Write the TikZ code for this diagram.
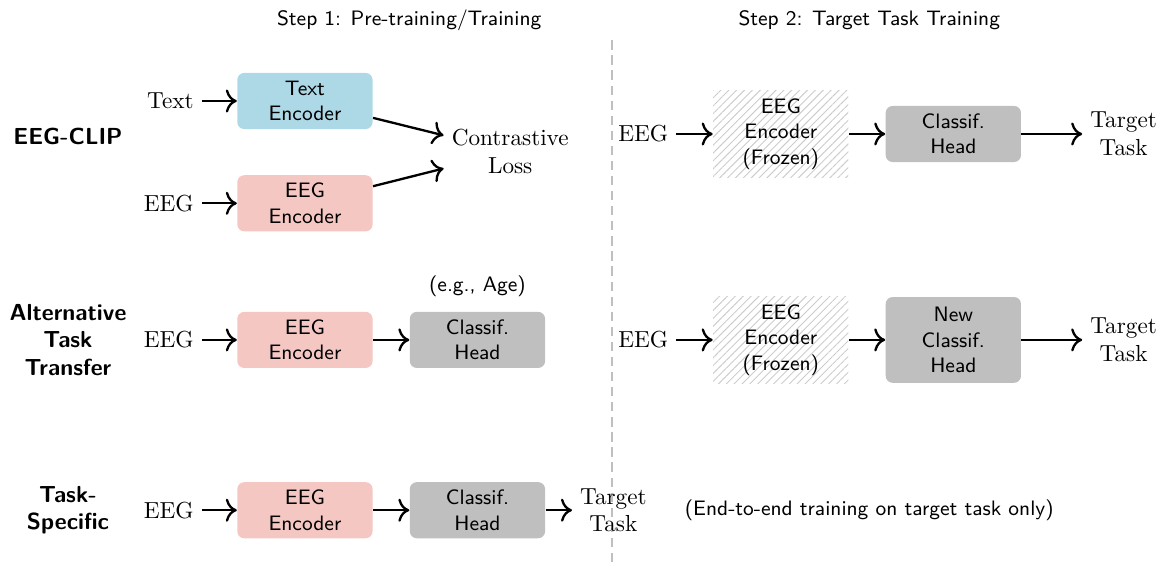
\documentclass[tikz,border=0pt]{standalone}
\usepackage{xcolor}
\usepackage{tikz}
\usetikzlibrary{shapes,arrows,arrows.meta,positioning,calc,patterns.meta}

\definecolor{encblue}{RGB}{173,216,230}
\definecolor{encpink}{RGB}{244,199,195}
\definecolor{headgray}{RGB}{191,191,191}

\begin{document}
\begin{tikzpicture}[node distance=0.55cm,
  box/.style={rectangle, rounded corners=3pt, minimum width=2.05cm, minimum height=0.85cm, inner sep=2pt, align=center, font=\sffamily\small},
  textenc/.style={box, fill=encblue},
  eegenc/.style={box, fill=encpink},
  head/.style={box, fill=headgray},
  frozen/.style={box, rounded corners=0pt, minimum height=1.33cm, pattern={Lines[angle=45,distance=2.4pt,line width=0.4pt]}, pattern color=gray!40},
  io/.style={align=center},
  rowlabel/.style={align=center, font=\sffamily\bfseries},
  note/.style={font=\sffamily\small},
  flow/.style={-{To[scale=1.25]}, line width=1pt}]
\useasboundingbox (0,0) rectangle (17.545,-8.59);

% step titles and divider
\node[font=\sffamily\small] (steppre) at (6.20,-0.30) {Step 1: Pre-training/Training};
\node[font=\sffamily\small] (steptarget) at (13.17,-0.30) {Step 2: Target Task Training};
\draw[gray!50, line width=0.6pt, dash pattern=on 4pt off 2.5pt] (9.27,-0.61) -- (9.27,-8.59);

% row labels
\node[rowlabel] (clip) at (1.03,-2.06) {EEG-CLIP};
\node[rowlabel] (alt) at (1.03,-5.15) {Alternative\\Task\\Transfer};
\node[rowlabel] (spec) at (1.03,-7.73) {Task-\\Specific};

% EEG-CLIP, step 1
\node[textenc] (cliptextenc) at (4.62,-1.53) {Text\\Encoder};
\node[eegenc] (clipeegenc) at (4.62,-3.08) {EEG\\Encoder};
\node[io, left=0.53cm of cliptextenc] (cliptext) {Text};
\node[io, left=0.53cm of clipeegenc] (clipeeg) {EEG};
\node[io] (cliploss) at (7.73,-2.30) {Contrastive\\Loss};
\draw[flow] (cliptext) -- (cliptextenc);
\draw[flow] (clipeeg) -- (clipeegenc);
\draw[flow] (cliptextenc) -- (cliploss);
\draw[flow] (clipeegenc) -- (cliploss);

% EEG-CLIP, step 2
\node[frozen] (clipfrozen) at (11.83,-2.03) {EEG\\Encoder\\(Frozen)};
\node[io, left=of clipfrozen] (clipeegR) {EEG};
\node[head, right=of clipfrozen] (cliphead) {Classif.\\Head};
\node[io, right=0.92cm of cliphead] (cliptarget) {Target\\Task};
\draw[flow] (clipeegR) -- (clipfrozen);
\draw[flow] (clipfrozen) -- (cliphead);
\draw[flow] (cliphead) -- (cliptarget);

% alternative task, step 1
\node[eegenc] (altenc) at (4.62,-5.15) {EEG\\Encoder};
\node[io, left=0.53cm of altenc] (alteeg) {EEG};
\node[head, right=of altenc] (althead) {Classif.\\Head};
\node[note, above=1mm of althead] (altage) {(e.g., Age)};
\draw[flow] (alteeg) -- (altenc);
\draw[flow] (altenc) -- (althead);

% alternative task, step 2
\node[frozen] (altfrozen) at (11.83,-5.15) {EEG\\Encoder\\(Frozen)};
\node[io, left=of altfrozen] (alteegR) {EEG};
\node[head, right=of altfrozen, minimum height=1.30cm] (altnewhead) {New\\Classif.\\Head};
\node[io, right=0.92cm of altnewhead] (alttarget) {Target\\Task};
\draw[flow] (alteegR) -- (altfrozen);
\draw[flow] (altfrozen) -- (altnewhead);
\draw[flow] (altnewhead) -- (alttarget);

% task-specific
\node[eegenc] (specenc) at (4.62,-7.73) {EEG\\Encoder};
\node[io, left=0.53cm of specenc] (speceeg) {EEG};
\node[head, right=of specenc] (spechead) {Classif.\\Head};
\node[io, right=0.4cm of spechead] (spectarget) {Target\\Task};
\node[note] (specnote) at (13.17,-7.73) {(End-to-end training on target task only)};
\draw[flow] (speceeg) -- (specenc);
\draw[flow] (specenc) -- (spechead);
\draw[flow] (spechead) -- (spectarget);
\end{tikzpicture}
\end{document}
